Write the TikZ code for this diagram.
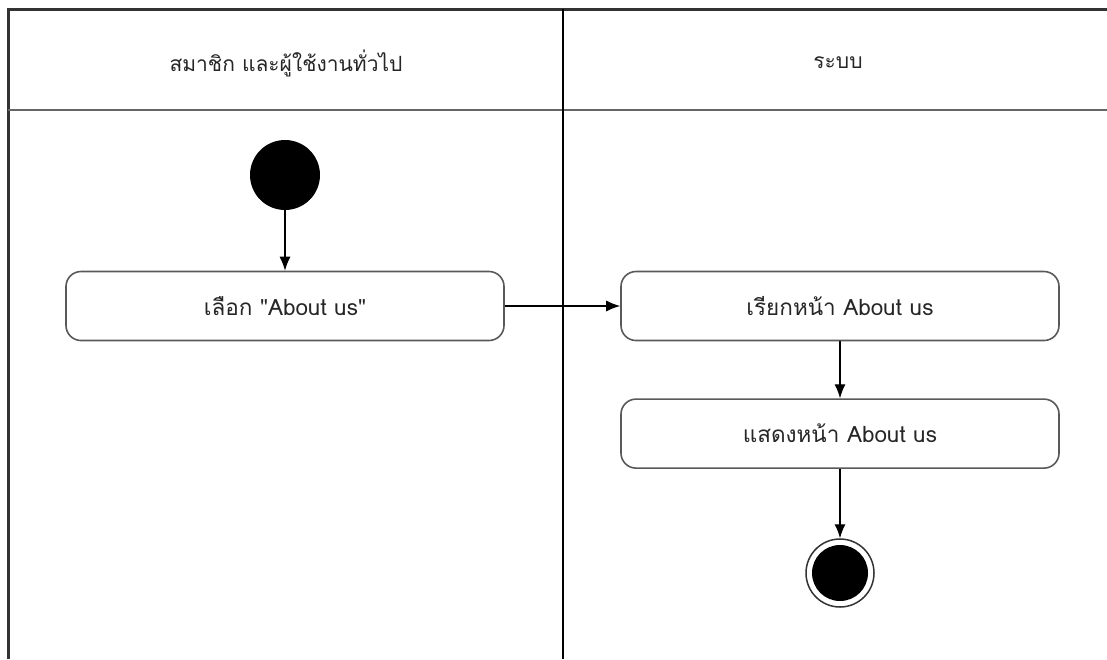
\documentclass[tikz,border=0pt]{standalone}
\usepackage{fontspec}
\newfontfamily\thaifont[Script=Thai]{Loma}
\usetikzlibrary{positioning,arrows.meta}

\begin{document}
\begin{tikzpicture}[x=1pt,y=-1pt,
		lane/.style={font=\thaifont\fontsize{21}{25}\selectfont,text=black!85},
		act/.style={draw=black!65,line width=1.6pt,rounded corners=15pt,minimum width=438pt,minimum height=69pt,font=\thaifont\fontsize{22.5}{27}\selectfont,text=black!85},
		start/.style={circle,fill=black,inner sep=0pt,minimum size=70pt},
		ring/.style={circle,draw=black!80,line width=1.5pt,inner sep=0pt,minimum size=68pt},
		stop/.style={circle,fill=black,inner sep=0pt,minimum size=56pt},
		flow/.style={line width=1.2pt,-{Latex[length=14pt,width=11pt]}}]
		\useasboundingbox (0,0) rectangle (1107,659);

		% lanes
		\draw[black!80,line width=3pt] (8,659) -- (8,9) -- (1107,9);
		\draw[black!60,line width=2.5pt] (8,110) -- (1107,110);
		\draw[black,line width=2pt] (563,9) -- (563,659);
		\node[lane] (member)	at (286,63)	{สมาชิก และผู้ใช้งานทั่วไป};
		\node[lane] (system)	at (838,63)	{ระบบ};

		% nodes
		\node[start]						(s)	at (285,175)	{};
		\node[act]							(a1)	at (285,306)	{เลือก "About us"};
		\node[act]							(a2)	at (840,306)	{เรียกหน้า About us};
		\node[act,below=57pt of a2]			(a3)	{แสดงหน้า About us};
		\node[ring]							(e)	at (840,573)	{};
		\node[stop]							(e0)	at (840,573)	{};

		\draw[flow] (s) -- (a1);
		\draw[flow] (a1) -- (a2);
		\draw[flow] (a2) -- (a3);
		\draw[flow] (a3) -- (e);
	\end{tikzpicture}
\end{document}
